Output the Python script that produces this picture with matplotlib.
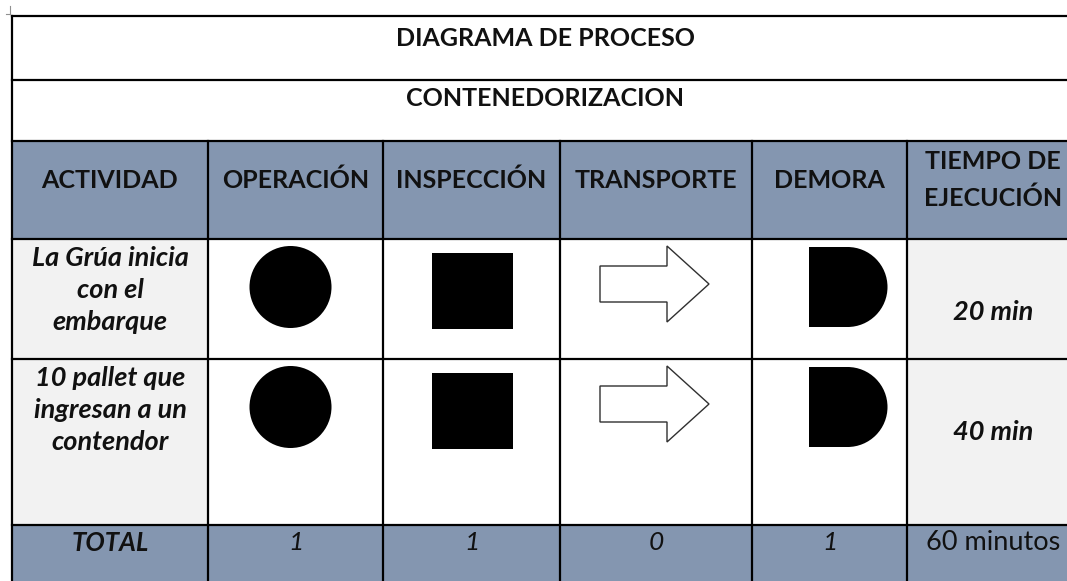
import numpy as np
import matplotlib.pyplot as plt
from matplotlib.patches import Rectangle, Circle, Polygon, Wedge

# table contents
titulo = "DIAGRAMA DE PROCESO"
subtitulo = "CONTENEDORIZACION"
encabezados = ["ACTIVIDAD", "OPERACIÓN", "INSPECCIÓN", "TRANSPORTE", "DEMORA", "TIEMPO DE\nEJECUCIÓN"]
actividades = ["La Grúa inicia\ncon el\nembarque", "10 pallet que\ningresan a un\ncontendor"]
tiempos = ["20 min", "40 min"]
totales = ["1", "1", "0", "1"]
total_tiempo = "60 minutos"
simbolos = ["circulo", "cuadrado", "flecha", "demora"]

# layout (pixel grid)
col_x = [12, 208, 383, 560, 752, 907, 1080]
row_y = [16, 80, 141, 239, 359, 525, 600]

HEAD = "#8496b0"
GRIS = "#f2f2f2"
FONT = "Lato"
TXT = "#111111"

fig = plt.figure(figsize=(10.67, 5.81), dpi=100)
ax = fig.add_axes([0, 0, 1, 1])
ax.set_xlim(0, 1067)
ax.set_ylim(581, 0)
ax.axis("off")

x0, x1 = col_x[0], col_x[-1]
lw = 1.6

# backgrounds
ax.add_patch(Rectangle((x0, row_y[2]), x1 - x0, row_y[3] - row_y[2], fc=HEAD, ec="none"))
ax.add_patch(Rectangle((x0, row_y[5]), x1 - x0, row_y[6] - row_y[5], fc=HEAD, ec="none"))
for c in (0, 5):
    ax.add_patch(Rectangle((col_x[c], row_y[3]), col_x[c+1] - col_x[c], row_y[5] - row_y[3], fc=GRIS, ec="none"))

# grid lines
for y in row_y[:-1]:
    ax.plot([x0, x1], [y, y], color="black", lw=lw)
ax.plot([x0, x0], [row_y[0], row_y[-1]], color="black", lw=lw)
for x in col_x[1:-1]:
    ax.plot([x, x], [row_y[2], row_y[-1]], color="black", lw=lw)

# small corner mark
ax.plot([10, 10], [6, 14], color="#909090", lw=0.8)
ax.plot([6, 10], [14, 14], color="#909090", lw=0.8)

# titles
ax.text(545, 38, titulo, ha="center", va="center",
        fontsize=18, fontweight="bold", family=FONT, color=TXT)
ax.text(545, 99, subtitulo, ha="center", va="center",
        fontsize=18, fontweight="bold", family=FONT, color=TXT)

cx = [(col_x[i] + col_x[i+1]) / 2 for i in range(6)]
cx[5] = 993

# header
for i, h in enumerate(encabezados):
    ax.text(cx[i], 180, h, ha="center", va="center", fontsize=18, fontweight="bold",
            family=FONT, color=TXT, linespacing=1.68)

# body rows
for r in range(len(actividades)):
    top = row_y[3 + r]
    ax.text(cx[0], top + 51, actividades[r], ha="center", va="center", fontsize=19.5,
            fontweight="bold", style="italic", family=FONT, color=TXT, linespacing=1.38)
    ax.text(cx[5], top + 73, tiempos[r], ha="center", va="center", fontsize=19.5,
            fontweight="bold", style="italic", family=FONT, color=TXT)
    for k, s in enumerate(simbolos):
        c = cx[k + 1]
        yc = top + 48
        if s == "circulo":
            ax.add_patch(Circle((c - 5, yc), 41, fc="black", ec="none"))
        elif s == "cuadrado":
            ax.add_patch(Rectangle((c - 40, yc - 34), 81, 76, fc="black", ec="none"))
        elif s == "flecha":
            ax0 = c - 56
            yt = yc - 3
            pts = [(ax0, yt - 18), (ax0 + 67, yt - 18), (ax0 + 67, yt - 38), (ax0 + 109, yt),
                   (ax0 + 67, yt + 38), (ax0 + 67, yt + 18), (ax0, yt + 18)]
            ax.add_patch(Polygon(pts, closed=True, fc="white", ec="#303030", lw=1.0))
        elif s == "demora":
            xl = c - 21
            ax.add_patch(Rectangle((xl, yc - 40), 40, 80, fc="black", ec="none"))
            ax.add_patch(Wedge((xl + 39, yc), 40, -90, 90, fc="black", ec="none"))

# total row
ty = row_y[5] + 18
ax.text(cx[0], ty, "TOTAL", ha="center", va="center", fontsize=18.5, fontweight="bold",
        style="italic", family=FONT, color=TXT)
for k, t in enumerate(totales):
    ax.text(cx[k + 1], ty, t, ha="center", va="center", fontsize=19,
            style="italic", family=FONT, color=TXT)
ax.text(cx[5], ty, total_tiempo, ha="center", va="center", fontsize=19.5,
        family=FONT, color=TXT)

fig.savefig("out.png", dpi=100)
